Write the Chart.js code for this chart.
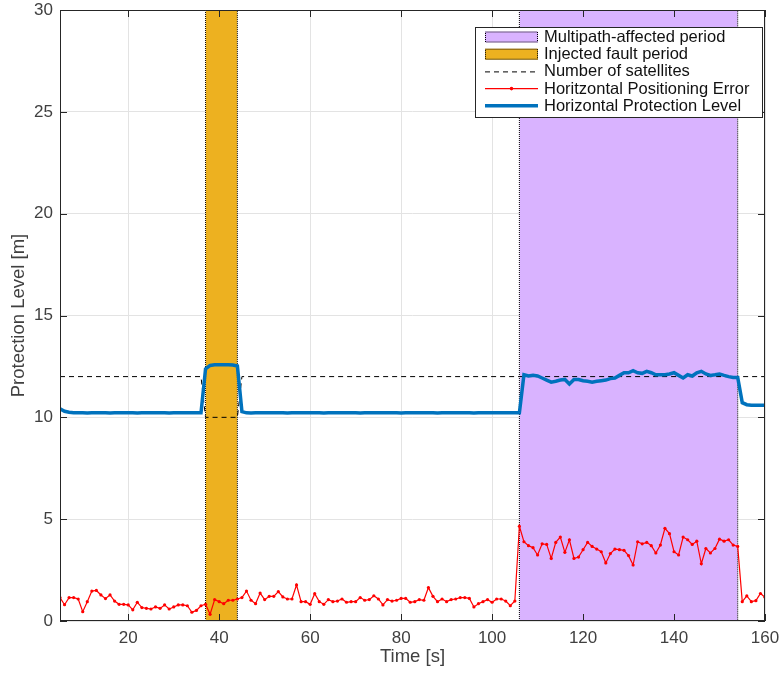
<!DOCTYPE html>
<html>
<head>
<meta charset="utf-8">
<script src="https://cdn.jsdelivr.net/npm/chart.js@4.4.1/dist/chart.umd.min.js"></script>
<style>
  html, body { margin: 0; padding: 0; background: #fff; }
  canvas { display: block; }
</style>
</head>
<body>
<canvas id="chart" width="782" height="675"></canvas>
<script>
// one sample per second, starting at t = 5 s
const startTime = 5;

// Horizontal positioning error [m], t = 5..160
const hpe = [
  1.15, 0.80, 1.15, 1.15, 1.08, 0.46, 0.95, 1.47, 1.50, 1.28,
  1.10, 1.28, 0.98, 0.82, 0.82, 0.79, 0.55, 0.92, 0.66, 0.62,
  0.59, 0.69, 0.62, 0.79, 0.59, 0.69, 0.79, 0.79, 0.75, 0.43,
  0.52, 0.75, 0.82, 0.33, 1.05, 0.95, 0.85, 1.02, 1.02, 1.08,
  1.15, 1.47, 1.02, 0.85, 1.37, 1.05, 1.21, 1.21, 1.44, 1.18,
  1.08, 1.08, 1.77, 0.95, 0.95, 0.82, 1.34, 0.95, 0.82, 1.05,
  0.95, 0.98, 1.08, 0.92, 0.95, 0.95, 1.15, 1.02, 1.05, 1.24,
  1.08, 0.79, 1.05, 0.98, 1.02, 1.11, 1.11, 0.92, 0.95, 1.05,
  1.02, 1.64, 1.21, 0.95, 1.08, 0.95, 1.05, 1.08, 1.15, 1.15,
  1.11, 0.69, 0.85, 0.95, 1.05, 0.92, 1.08, 1.08, 0.98, 0.75,
  0.98, 4.65, 3.89, 3.70, 3.60, 3.24, 3.79, 3.76, 3.07, 3.86,
  4.12, 3.37, 3.99, 3.07, 3.14, 3.50, 3.86, 3.66, 3.53, 3.40,
  2.85, 3.31, 3.53, 3.50, 3.47, 3.21, 2.75, 3.89, 3.79, 3.86,
  3.70, 3.34, 3.73, 4.55, 4.29, 3.40, 3.24, 4.12, 3.99, 3.76,
  3.92, 2.81, 3.56, 3.34, 3.56, 4.02, 3.92, 3.99, 3.73, 3.66,
  0.95, 1.23, 0.95, 1.00, 1.35, 1.16
];

// Horizontal protection level [m], t = 5..160
const hpl = [
  10.42, 10.30, 10.25, 10.23, 10.22, 10.22, 10.21, 10.22, 10.23, 10.22,
  10.22, 10.21, 10.22, 10.22, 10.23, 10.22, 10.22, 10.21, 10.22, 10.22,
  10.22, 10.23, 10.22, 10.22, 10.21, 10.22, 10.22, 10.22, 10.23, 10.22,
  10.22, 10.22, 12.38, 12.55, 12.58, 12.58, 12.58, 12.58, 12.57, 12.52,
  10.28, 10.22, 10.21, 10.22, 10.22, 10.22, 10.23, 10.22, 10.22, 10.22,
  10.21, 10.22, 10.22, 10.23, 10.22, 10.22, 10.22, 10.22, 10.21, 10.22,
  10.22, 10.22, 10.23, 10.22, 10.22, 10.22, 10.21, 10.22, 10.22, 10.22,
  10.22, 10.23, 10.22, 10.22, 10.22, 10.21, 10.22, 10.22, 10.22, 10.23,
  10.22, 10.22, 10.22, 10.21, 10.22, 10.22, 10.22, 10.23, 10.22, 10.22,
  10.22, 10.21, 10.22, 10.22, 10.22, 10.23, 10.22, 10.22, 10.22, 10.22,
  10.22, 10.22, 12.09, 12.03, 12.06, 12.03, 11.93, 11.83, 11.73, 11.77,
  11.83, 11.86, 11.64, 11.86, 11.86, 11.80, 11.77, 11.73, 11.77, 11.80,
  11.83, 11.90, 11.93, 12.06, 12.19, 12.19, 12.29, 12.19, 12.16, 12.26,
  12.19, 12.09, 12.09, 12.09, 12.13, 12.19, 12.06, 11.93, 12.09, 12.03,
  12.19, 12.26, 12.13, 12.06, 12.09, 12.13, 12.06, 12.00, 11.96, 11.96,
  10.72, 10.62, 10.59, 10.59, 10.59, 10.59
];

// number of satellites (step changes)
const satTimes = [5, 36, 37, 44, 45, 160];
const satCount = [12, 12, 10, 10, 12, 12];

// shaded periods [start, end] in s
const faultPeriod = [37, 44];
const multipathPeriod = [106, 154];

const xTicks = [20, 40, 60, 80, 100, 120, 140, 160];
const yTicks = [0, 5, 10, 15, 20, 25, 30];

const legendLabels = [
  'Multipath-affected period',
  'Injected fault period',
  'Number of satellites',
  'Horitzontal Positioning Error',
  'Horizontal Protection Level'
];

const time = hpe.map((_, i) => startTime + i);
const yMax = yTicks[yTicks.length - 1];

function band(period) {
  return [
    { x: period[0], y: 0 },
    { x: period[0], y: yMax },
    { x: period[1], y: yMax },
    { x: period[1], y: 0 }
  ];
}

// label overflow should not push the plot box around
function noPadding(s) {
  s.paddingTop = s.paddingBottom = s.paddingLeft = s.paddingRight = 0;
}

const FONT = "'Helvetica Neue', Helvetica, 'Liberation Sans', Arial, sans-serif";
const PURPLE = '#d9b3ff';
const GOLD = '#edb120';
const RED = '#ff0000';
const BLUE = '#0072bd';
const AXIS = '#262626';

// box, inward ticks and legend, MATLAB style
const matlabFrame = {
  id: 'matlabFrame',
  afterDatasetsDraw(chart) {
    const { ctx, chartArea: a, scales } = chart;
    ctx.save();
    ctx.strokeStyle = AXIS;
    ctx.lineWidth = 1;
    ctx.strokeRect(a.left + 0.5, a.top + 0.5, a.right - a.left - 1, a.bottom - a.top - 1);
    ctx.beginPath();
    xTicks.forEach(v => {
      const px = Math.round(scales.x.getPixelForValue(v)) + 0.5;
      ctx.moveTo(px, a.bottom); ctx.lineTo(px, a.bottom - 7);
      ctx.moveTo(px, a.top); ctx.lineTo(px, a.top + 7);
    });
    yTicks.forEach(v => {
      const py = Math.round(scales.y.getPixelForValue(v)) + 0.5;
      ctx.moveTo(a.left, py); ctx.lineTo(a.left + 7, py);
      ctx.moveTo(a.right, py); ctx.lineTo(a.right - 7, py);
    });
    ctx.stroke();
    ctx.restore();
  },
  afterDraw(chart) {
    const { ctx, chartArea: a } = chart;
    const x0 = a.right - 290, y0 = a.top + 17, w = 287, h = 90;
    ctx.save();
    ctx.fillStyle = '#fff';
    ctx.fillRect(x0, y0, w, h);
    ctx.strokeStyle = AXIS;
    ctx.lineWidth = 1;
    ctx.strokeRect(x0 + 0.5, y0 + 0.5, w, h);

    const sx0 = x0 + 10, sx1 = x0 + 63, tx = x0 + 69;
    legendLabels.forEach((label, i) => {
      const y = y0 + 10 + i * 17.2;
      ctx.setLineDash([]);
      if (i < 2) {
        ctx.fillStyle = i === 0 ? PURPLE : GOLD;
        ctx.fillRect(sx0, y - 5.5, sx1 - sx0, 11);
        ctx.strokeStyle = '#000';
        ctx.lineWidth = 1;
        ctx.setLineDash([1, 1]);
        ctx.strokeRect(sx0 + 0.5, y - 5, sx1 - sx0 - 1, 10);
      } else if (i === 2) {
        ctx.strokeStyle = '#000';
        ctx.lineWidth = 1;
        ctx.setLineDash([5, 4]);
        ctx.beginPath(); ctx.moveTo(sx0, y + 0.5); ctx.lineTo(sx1, y + 0.5); ctx.stroke();
      } else if (i === 3) {
        ctx.strokeStyle = RED;
        ctx.lineWidth = 1.2;
        ctx.beginPath(); ctx.moveTo(sx0, y); ctx.lineTo(sx1, y); ctx.stroke();
        ctx.fillStyle = RED;
        ctx.beginPath(); ctx.arc((sx0 + sx1) / 2, y, 1.8, 0, Math.PI * 2); ctx.fill();
      } else {
        ctx.strokeStyle = BLUE;
        ctx.lineWidth = 3.5;
        ctx.beginPath(); ctx.moveTo(sx0, y); ctx.lineTo(sx1, y); ctx.stroke();
      }
      ctx.setLineDash([]);
      ctx.fillStyle = '#111';
      ctx.font = '16.5px ' + FONT;
      ctx.textAlign = 'left';
      ctx.textBaseline = 'middle';
      ctx.fillText(label, tx, y + 0.5);
    });
    ctx.restore();
  }
};

new Chart(document.getElementById('chart').getContext('2d'), {
  type: 'line',
  data: {
    labels: time,
    datasets: [
      {
        label: legendLabels[0],
        data: band(multipathPeriod),
        backgroundColor: PURPLE,
        borderColor: '#000',
        borderWidth: 1,
        borderDash: [1, 1],
        fill: 'origin',
        pointRadius: 0,
        order: 4
      },
      {
        label: legendLabels[1],
        data: band(faultPeriod),
        backgroundColor: GOLD,
        borderColor: '#000',
        borderWidth: 1,
        borderDash: [1, 1],
        fill: 'origin',
        pointRadius: 0,
        order: 3
      },
      {
        label: legendLabels[2],
        data: satTimes.map((t, i) => ({ x: t, y: satCount[i] })),
        borderColor: '#000',
        borderWidth: 1,
        borderDash: [5, 4],
        fill: false,
        pointRadius: 0,
        order: 2
      },
      {
        label: legendLabels[3],
        data: hpe,
        borderColor: RED,
        borderWidth: 1.2,
        pointRadius: 1.6,
        pointBorderWidth: 0,
        pointBackgroundColor: RED,
        fill: false,
        order: 1
      },
      {
        label: legendLabels[4],
        data: hpl,
        borderColor: BLUE,
        borderWidth: 3.5,
        pointRadius: 0,
        fill: false,
        order: 0
      }
    ]
  },
  options: {
    responsive: false,
    animation: false,
    devicePixelRatio: 1,
    layout: { padding: { top: 10, right: 17, left: 0, bottom: 0 } },
    plugins: {
      legend: { display: false },
      tooltip: { enabled: false }
    },
    elements: { line: { tension: 0 } },
    scales: {
      x: {
        type: 'linear',
        min: 5,
        max: 160,
        afterBuildTicks: s => { s.ticks = xTicks.map(v => ({ value: v })); },
        afterFit: s => { s.height = 54; noPadding(s); },
        grid: { color: '#e3e3e3', drawTicks: false },
        border: { display: false },
        ticks: { color: '#404040', font: { family: FONT, size: 17 }, padding: 7, maxRotation: 0 },
        title: {
          display: true,
          text: 'Time [s]',
          color: '#404040',
          font: { family: FONT, size: 18.5 },
          padding: { top: 0, bottom: 7 }
        }
      },
      y: {
        min: 0,
        max: 30,
        afterBuildTicks: s => { s.ticks = yTicks.map(v => ({ value: v })); },
        afterFit: s => { s.width = 60; noPadding(s); },
        grid: { color: '#e3e3e3', drawTicks: false },
        border: { display: false },
        ticks: { color: '#404040', font: { family: FONT, size: 17 }, padding: 7 },
        title: {
          display: true,
          text: 'Protection Level [m]',
          color: '#404040',
          font: { family: FONT, size: 18.5 },
          padding: { top: 8, bottom: 0 }
        }
      }
    }
  },
  plugins: [matlabFrame]
});
</script>
</body>
</html>
